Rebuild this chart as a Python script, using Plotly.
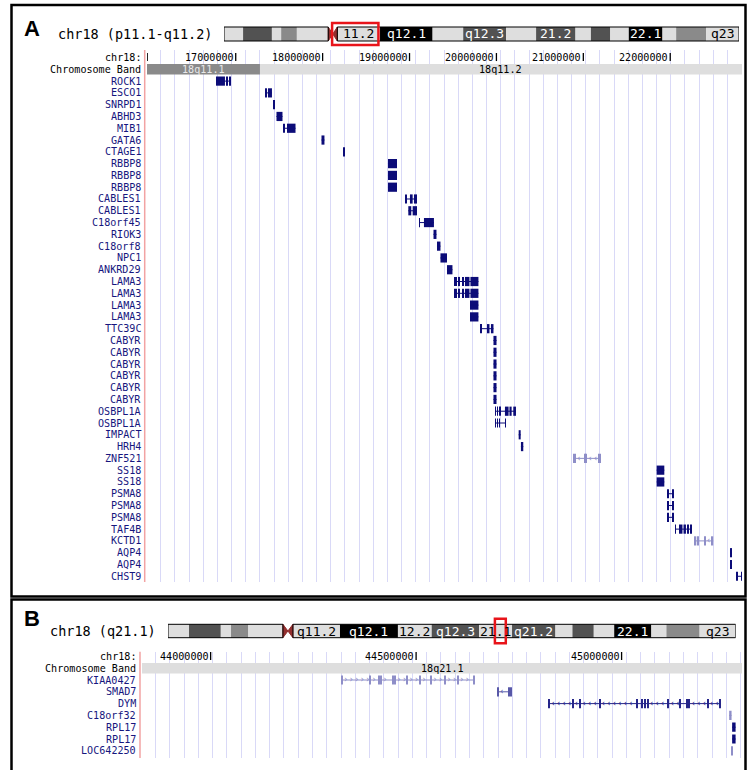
import numpy as np
import plotly.graph_objects as go

FIG_W, FIG_H = 748, 770

# ---------------- chromosome 18 ideogram (Mb) ----------------
ideo_band_name = ["p11.32", "p11.31", "p11.23", "p11.22", "p11.21", "cen", "q11.2", "q12.1", "q12.2",
                  "q12.3", "q21.1", "q21.2", "q21.31", "q21.32", "q21.33", "q22.1", "q22.2", "q22.3", "q23"]
ideo_band_start = [0.00, 2.82, 7.08, 8.45, 10.77, 15.41, 16.75, 23.06, 30.83, 35.36, 41.71, 46.13,
                   51.95, 54.23, 57.09, 59.83, 64.81, 66.83, 71.28]
ideo_band_end = [2.82, 7.08, 8.45, 10.77, 15.41, 16.75, 23.06, 30.83, 35.36, 41.71, 46.13, 51.95,
                 54.23, 57.09, 59.83, 64.81, 66.83, 71.28, 76.12]
ideo_band_stain = ["gneg", "gpos75", "gneg", "gpos50", "gneg", "acen", "gneg", "gpos100", "gneg",
                   "gpos75", "gneg", "gpos75", "gneg", "gpos75", "gneg", "gpos100", "gneg", "gpos50", "gneg"]
ideo_label_a = ["", "", "", "", "", "", "11.2", "q12.1", "", "q12.3", "", "21.2", "", "", "", "22.1", "", "", "q23"]
ideo_label_b = ["", "", "", "", "", "", "q11.2", "q12.1", "12.2", "q12.3", "21.1", "q21.2", "", "", "", "22.1", "", "", "q23"]
chrom_title_a = "chr18 (p11.1-q11.2)"
chrom_title_b = "chr18 (q21.1)"

# ---------------- panel A track (Mb) ----------------
a_view = [15.979, 22.826]
a_ruler_ticks = [17.0, 18.0, 19.0, 20.0, 21.0, 22.0]
a_ruler_labels = ["17000000", "18000000", "19000000", "20000000", "21000000", "22000000"]
a_grid_origin = 18.583
a_grid_step = 0.163
a_band_name = ["18q11.1", "18q11.2"]
a_band_start = [15.40, 17.279]
a_band_end = [17.279, 25.00]
a_band_stain = ["gpos50", "gneg"]
a_gene_name = ["ROCK1", "ESCO1", "SNRPD1", "ABHD3", "MIB1", "GATA6", "CTAGE1", "RBBP8", "RBBP8", "RBBP8",
               "CABLES1", "CABLES1", "C18orf45", "RIOK3", "C18orf8", "NPC1", "ANKRD29", "LAMA3", "LAMA3",
               "LAMA3", "LAMA3", "TTC39C", "CABYR", "CABYR", "CABYR", "CABYR", "CABYR", "CABYR",
               "OSBPL1A", "OSBPL1A", "IMPACT", "HRH4", "ZNF521", "SS18", "SS18", "PSMA8", "PSMA8", "PSMA8",
               "TAF4B", "KCTD1", "AQP4", "AQP4", "CHST9"]
a_exons = [
    [(16.773, 16.876), (16.899, 16.911), (16.934, 16.945)],
    [(17.348, 17.360), (17.371, 17.417)],
    [(17.435, 17.452)],
    [(17.469, 17.538)],
    [(17.555, 17.567), (17.590, 17.688)],
    [(17.987, 18.021)],
    [(18.238, 18.249)],
    [(18.752, 18.856)],
    [(18.752, 18.856)],
    [(18.752, 18.856)],
    [(18.948, 18.960), (19.005, 19.036), (19.051, 19.086)],
    [(18.986, 19.020), (19.036, 19.086)],
    [(19.112, 19.120), (19.166, 19.281)],
    [(19.276, 19.310)],
    [(19.316, 19.356)],
    [(19.356, 19.431)],
    [(19.431, 19.494)],
    [(19.512, 19.520), (19.529, 19.540), (19.563, 19.581), (19.604, 19.621), (19.638, 19.690), (19.701, 19.793)],
    [(19.512, 19.520), (19.529, 19.540), (19.563, 19.581), (19.604, 19.621), (19.638, 19.690), (19.701, 19.793)],
    [(19.696, 19.793)],
    [(19.696, 19.793)],
    [(19.822, 19.833), (19.903, 19.920), (19.937, 19.966)],
    [(19.966, 20.001)],
    [(19.966, 20.001)],
    [(19.966, 20.001)],
    [(19.966, 20.001)],
    [(19.966, 20.001)],
    [(19.966, 20.001)],
    [(19.985, 19.995), (20.008, 20.018), (20.036, 20.046), (20.098, 20.140), (20.150, 20.175), (20.194, 20.225)],
    [(19.985, 19.995), (20.008, 20.018), (20.030, 20.040), (20.100, 20.110)],
    [(20.256, 20.279)],
    [(20.282, 20.309)],
    [(20.884, 20.890), (20.900, 20.910), (21.015, 21.021), (21.030, 21.040), (21.170, 21.176), (21.186, 21.192)],
    [(21.844, 21.932)],
    [(21.844, 21.932)],
    [(21.971, 21.986), (22.028, 22.043)],
    [(21.971, 21.986), (22.028, 22.043)],
    [(21.971, 21.986), (22.028, 22.043)],
    [(22.055, 22.066), (22.101, 22.141), (22.153, 22.181), (22.204, 22.216), (22.235, 22.247)],
    [(22.285, 22.300), (22.312, 22.331), (22.398, 22.404), (22.480, 22.495)],
    [(22.688, 22.711)],
    [(22.694, 22.700)],
    [(22.757, 22.774), (22.815, 22.822)],
]
a_light_genes = ["ZNF521", "KCTD1"]

# ---------------- panel B track (Mb) ----------------
b_view = [43.833, 45.293]
b_ruler_ticks = [44.0, 44.5, 45.0]
b_ruler_labels = ["44000000", "44500000", "45000000"]
b_grid_origin = 43.866
b_grid_step = 0.03472
b_band_name = ["18q21.1"]
b_band_start = [41.71]
b_band_end = [46.13]
b_band_stain = ["gneg"]
b_gene_name = ["KIAA0427", "SMAD7", "DYM", "C18orf32", "RPL17", "RPL17", "LOC642250"]
b_exons = [
    [(44.3187, 44.3212), (44.3876, 44.3901), (44.4078, 44.4103), (44.4144, 44.4169), (44.4428, 44.4453),
     (44.4484, 44.4509), (44.4776, 44.4801), (44.5092, 44.5117), (44.5360, 44.5385), (44.5700, 44.5725),
     (44.6010, 44.6035), (44.6389, 44.6414)],
    [(44.6983, 44.7008), (44.7246, 44.7271), (44.7299, 44.7324)],
    [(44.8231, 44.8256), (44.8798, 44.8823), (44.8985, 44.9010), (44.9455, 44.9480), (45.0365, 45.0390),
     (45.0480, 45.0505), (45.0555, 45.0585), (45.0620, 45.0650), (45.1125, 45.1155), (45.1419, 45.1444),
     (45.1585, 45.1615), (45.1640, 45.1665), (45.2085, 45.2110), (45.2384, 45.2409)],
    [(45.2618, 45.2676)],
    [(45.2690, 45.2774)],
    [(45.2690, 45.2774)],
    [(45.2676, 45.2700)],
]
b_status = ["light", "medium", "dark", "light", "known", "known", "light"]

gene_strand = {"ZNF521": "-", "KCTD1": "-", "KIAA0427": "+", "SMAD7": "-", "DYM": "-"}

# ---------------- styles ----------------
MONO = "DejaVu Sans Mono"
LABEL_SIZE = 10.1
STAIN_FILL = {"gneg": "#DEDEDE", "gpos50": "#8A8A8A", "gpos75": "#525252", "gpos100": "#000000", "acen": "#922E2E"}
STAIN_TEXT = {"gneg": "#000000", "gpos50": "#E8E8E8", "gpos75": "#FFFFFF", "gpos100": "#FFFFFF"}
GENE_COLOR = {"known": "#0C0C78", "dark": "#26268A", "medium": "#5858A8", "light": "#8E8EC8"}
LABEL_COLOR = "#16167E"
GRID = "#D9D9F7"

a_status = ["light" if g in a_light_genes else "known" for g in a_gene_name]

panels = [
    dict(xa="x", ya="y", xi="x3", yi="y3", view=a_view, ticks=a_ruler_ticks, tick_labels=a_ruler_labels,
         grid0=a_grid_origin, gstep=a_grid_step, band_name=a_band_name, band_start=a_band_start,
         band_end=a_band_end, band_stain=a_band_stain, genes=a_gene_name, exons=a_exons, status=a_status,
         ideo_labels=ideo_label_a, title=chrom_title_a, letter="A",
         track_x=(147, 742), track_y=(50, 582), row0=69.3, row_h=11.79, label_gap=5,
         ideo_x=(224, 739), ideo_cy=34, chrom_h=14, box_h=22, redline_x=144.7, letter_xy=(32, 28),
         edge_tick=True),
    dict(xa="x2", ya="y2", xi="x4", yi="y4", view=b_view, ticks=b_ruler_ticks, tick_labels=b_ruler_labels,
         grid0=b_grid_origin, gstep=b_grid_step, band_name=b_band_name, band_start=b_band_start,
         band_end=b_band_end, band_stain=b_band_stain, genes=b_gene_name, exons=b_exons, status=b_status,
         ideo_labels=ideo_label_b, title=chrom_title_b, letter="B",
         track_x=(142, 742), track_y=(651.7, 758), row0=668.2, row_h=11.8, label_gap=4.7,
         ideo_x=(168, 735.7), ideo_cy=631, chrom_h=13.4, box_h=24.4, redline_x=140, letter_xy=(32, 618),
         edge_tick=False),
]

fig = go.Figure()
layout = dict(width=FIG_W, height=FIG_H, margin=dict(l=0, r=0, t=0, b=0), paper_bgcolor="white",
              plot_bgcolor="white", showlegend=False, barmode="overlay")
annotations = []
shapes = []


def axname(ref):
    return "xaxis" + ref[1:] if ref[0] == "x" else "yaxis" + ref[1:]


def hidden_axis(**kw):
    d = dict(showgrid=False, showticklabels=False, ticks="", zeroline=False, showline=False, fixedrange=True)
    d.update(kw)
    return d


for p in panels:
    xa, ya, xi, yi = p["xa"], p["ya"], p["xi"], p["yi"]
    tx0, tx1 = p["track_x"]
    ty0, ty1 = p["track_y"]
    r_top = (ty0 - p["row0"]) / p["row_h"]
    r_bot = (ty1 - p["row0"]) / p["row_h"]
    px_per_mb = (tx1 - tx0) / (p["view"][1] - p["view"][0])

    layout[axname(xa)] = hidden_axis(domain=[tx0 / FIG_W, tx1 / FIG_W], range=p["view"], anchor=ya,
                                     showgrid=True, gridcolor=GRID, gridwidth=1, tickmode="linear",
                                     tick0=p["grid0"], dtick=p["gstep"])
    layout[axname(ya)] = hidden_axis(domain=[1 - ty1 / FIG_H, 1 - ty0 / FIG_H], range=[r_bot, r_top], anchor=xa)

    # ideogram axes
    ix0, ix1 = p["ideo_x"]
    cy = p["ideo_cy"]
    layout[axname(xi)] = hidden_axis(domain=[ix0 / FIG_W, ix1 / FIG_W], range=[0, ideo_band_end[-1]], anchor=yi)
    layout[axname(yi)] = hidden_axis(domain=[1 - (cy + 15) / FIG_H, 1 - (cy - 15) / FIG_H], range=[15, -15], anchor=xi)

    # ---- ruler ----
    tick_x, tick_y = [], []
    marks = list(p["ticks"]) + ([p["view"][0] + 0.2 / px_per_mb] if p["edge_tick"] else [])
    for t in marks:
        tick_x += [t, t, None]
        tick_y += [-1.38, -0.7, None]
    fig.add_trace(go.Scatter(x=tick_x, y=tick_y, mode="lines", line=dict(color="black", width=1.3),
                             xaxis=xa, yaxis=ya, hoverinfo="skip"))
    for t, lab in zip(p["ticks"], p["tick_labels"]):
        annotations.append(dict(x=t, y=-1.02, xref=xa, yref=ya, text=lab, showarrow=False, xanchor="right",
                                xshift=-1, borderpad=0,
                                font=dict(family=MONO, size=LABEL_SIZE, color="black")))

    # ---- chromosome band row ----
    for nm, s, e, st in zip(p["band_name"], p["band_start"], p["band_end"], p["band_stain"]):
        fig.add_trace(go.Bar(y=[0], base=[s], x=[e - s], orientation="h", width=0.9,
                             marker=dict(color=STAIN_FILL[st], line=dict(width=0)),
                             xaxis=xa, yaxis=ya, hoverinfo="skip"))
        vis_c = (max(s, p["view"][0]) + min(e, p["view"][1])) / 2
        annotations.append(dict(x=vis_c, y=0, xref=xa, yref=ya, text=nm, showarrow=False,
                                borderpad=0, font=dict(family=MONO, size=LABEL_SIZE, color=STAIN_TEXT[st])))

    # ---- row labels ----
    labels = ["chr18:", "Chromosome Band"] + list(p["genes"])
    rows = [-1, 0] + list(range(1, len(p["genes"]) + 1))
    for lab, r in zip(labels, rows):
        col = "black" if r <= 0 else LABEL_COLOR
        annotations.append(dict(x=0, y=r, xref=xa + " domain", yref=ya, text=lab, showarrow=False,
                                xanchor="right", xshift=-p["label_gap"], borderpad=0,
                                font=dict(family=MONO, size=LABEL_SIZE, color=col)))

    # ---- genes ----
    for status in ["light", "medium", "dark", "known"]:
        lx, ly, bb, bw, by = [], [], [], [], []
        cx, cy_, ct = [], [], []
        for gi, (g, ex, stt) in enumerate(zip(p["genes"], p["exons"], p["status"])):
            if stt != status:
                continue
            r = gi + 1
            s0 = min(a for a, b in ex)
            e0 = max(b for a, b in ex)
            lx += [s0, e0, None]
            ly += [r, r, None]
            for a, b in ex:
                bb.append(a)
                bw.append(b - a)
                by.append(r)
            strand = gene_strand.get(g)
            if strand:
                for (a0, b0), (a1, b1) in zip(ex[:-1], ex[1:]):
                    gap_px = (a1 - b0) * px_per_mb
                    if gap_px >= 6.5:
                        for pos in np.arange(b0 + 3.2 / px_per_mb, a1 - 2.0 / px_per_mb, 5.5 / px_per_mb):
                            cx.append(pos)
                            cy_.append(r)
                            ct.append("›" if strand == "+" else "‹")
        if not lx:
            continue
        col = GENE_COLOR[status]
        fig.add_trace(go.Scatter(x=lx, y=ly, mode="lines", line=dict(color=col, width=1),
                                 xaxis=xa, yaxis=ya, hoverinfo="skip"))
        fig.add_trace(go.Bar(y=by, base=bb, x=bw, orientation="h", width=0.78,
                             marker=dict(color=col, line=dict(width=0)), xaxis=xa, yaxis=ya, hoverinfo="skip"))
        if cx:
            fig.add_trace(go.Scatter(x=cx, y=cy_, mode="text", text=ct, textposition="middle center",
                                     textfont=dict(family="DejaVu Sans", size=9, color=col),
                                     xaxis=xa, yaxis=ya, hoverinfo="skip"))

    # ---- ideogram ----
    h = p["chrom_h"] / 2
    keep = [i for i, st in enumerate(ideo_band_stain) if st != "acen"]
    fig.add_trace(go.Bar(y=[0] * len(keep), base=[ideo_band_start[i] for i in keep],
                         x=[ideo_band_end[i] - ideo_band_start[i] for i in keep], orientation="h",
                         width=2 * h, marker=dict(color=[STAIN_FILL[ideo_band_stain[i]] for i in keep],
                                                  line=dict(width=0)),
                         xaxis=xi, yaxis=yi, hoverinfo="skip"))
    ci = ideo_band_stain.index("acen")
    c0, c1 = ideo_band_start[ci], ideo_band_end[ci]
    cm = (c0 + c1) / 2
    fig.add_trace(go.Scatter(x=[c0, cm, c1, c1, cm, c0, c0], y=[-h, 0, -h, h, 0, h, -h], mode="lines",
                             fill="toself", fillcolor=STAIN_FILL["acen"], line=dict(color=STAIN_FILL["acen"], width=1),
                             xaxis=xi, yaxis=yi, hoverinfo="skip"))
    for s, e in [(ideo_band_start[0], c0), (c1, ideo_band_end[-1])]:
        shapes.append(dict(type="rect", xref=xi, yref=yi, x0=s, x1=e, y0=-h, y1=h,
                           line=dict(color="black", width=1), fillcolor="rgba(0,0,0,0)"))
    for lab, s, e, st in zip(p["ideo_labels"], ideo_band_start, ideo_band_end, ideo_band_stain):
        if lab:
            annotations.append(dict(x=(s + e) / 2, y=0, xref=xi, yref=yi, text=lab, showarrow=False,
                                    borderpad=0, font=dict(family=MONO, size=13, color=STAIN_TEXT[st])))
    bh = p["box_h"] / 2
    shapes.append(dict(type="rect", xref=xi, yref=yi, x0=p["view"][0], x1=p["view"][1], y0=-bh, y1=bh,
                       line=dict(color="#E8141A", width=2.5), fillcolor="rgba(0,0,0,0)"))
    annotations.append(dict(x=0, y=0, xref=xi + " domain", yref=yi, text=p["title"], showarrow=False,
                            xanchor="right", xshift=-10, font=dict(family=MONO, size=13.5, color="black")))

    # ---- panel decorations ----
    shapes.append(dict(type="line", xref="paper", yref="paper", x0=p["redline_x"] / FIG_W,
                       x1=p["redline_x"] / FIG_W, y0=1 - ty0 / FIG_H, y1=1 - ty1 / FIG_H,
                       line=dict(color="#F2A3A3", width=1.5)))
    lx_, ly_ = p["letter_xy"]
    annotations.append(dict(x=lx_ / FIG_W, y=1 - ly_ / FIG_H, xref="paper", yref="paper",
                            text="<b>" + p["letter"] + "</b>", showarrow=False, xanchor="center",
                            yanchor="middle", font=dict(family="Liberation Sans", size=22, color="black")))

# panel frames
shapes.append(dict(type="rect", xref="paper", yref="paper", x0=11.5 / FIG_W, x1=745.5 / FIG_W,
                   y0=1 - 596.5 / FIG_H, y1=1 - 5 / FIG_H, line=dict(color="black", width=2.5)))
shapes.append(dict(type="rect", xref="paper", yref="paper", x0=11.5 / FIG_W, x1=745.5 / FIG_W,
                   y0=1 - 800 / FIG_H, y1=1 - 599.5 / FIG_H, line=dict(color="black", width=2.5)))

layout["annotations"] = annotations
layout["shapes"] = shapes
fig.update_layout(**layout)
fig.write_html("out.html", config={"displayModeBar": False},
               post_script="document.body.style.margin='0';document.body.style.overflow='hidden';")
